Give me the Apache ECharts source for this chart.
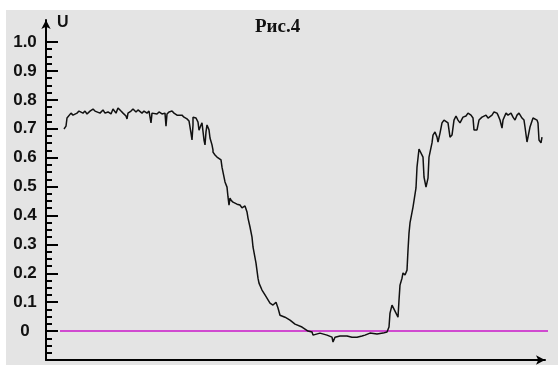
<!DOCTYPE html>
<html>
<head>
<meta charset="utf-8">
<script src="https://cdn.jsdelivr.net/npm/echarts@6/dist/echarts.min.js"></script>
<style>
  html, body { margin: 0; padding: 0; background: #fff; }
  #chart { position: absolute; left: 6px; top: 10px; width: 552px; height: 355px; background: #e4e4e4; }
</style>
</head>
<body>
<div id="chart"></div>
<script>
// abscissa (arbitrary units along the horizontal axis) and signal U
const t = [18, 20, 21, 22, 25, 27, 31, 33, 37, 39, 41, 44, 47, 49, 51, 54, 57, 59, 62, 65, 67, 70, 72, 75, 77, 80, 81, 82, 85, 87, 90, 92, 96, 98, 101, 103, 104, 105, 106, 108, 111, 113, 116, 118, 119, 120, 121, 123, 126, 128, 131, 133, 136, 138, 141, 143, 145, 145, 146, 147, 147, 150, 152, 153, 155, 156, 158, 159, 160, 161, 163, 164, 165, 166, 167, 167, 169, 171, 172, 175, 176, 177, 179, 181, 182, 183, 184, 185, 187, 191, 194, 196, 199, 201, 202, 204, 206, 207, 210, 212, 213, 216, 219, 224, 227, 230, 232, 234, 239, 244, 249, 256, 262, 266, 267, 274, 281, 286, 287, 289, 294, 301, 306, 311, 316, 319, 324, 331, 337, 341, 343, 344, 346, 347, 350, 352, 353, 354, 356, 357, 359, 361, 362, 363, 364, 367, 370, 371, 373, 377, 378, 380, 382, 383, 386, 387, 389, 391, 392, 394, 396, 398, 400, 402, 404, 406, 408, 410, 412, 414, 417, 420, 422, 425, 427, 428, 431, 433, 436, 438, 440, 442, 446, 448, 451, 452, 454, 456, 457, 460, 462, 465, 467, 469, 471, 473, 476, 478, 479, 481, 482, 484, 487, 489, 491, 492, 493, 495, 496];
const u = [0.699, 0.709, 0.737, 0.740, 0.754, 0.747, 0.754, 0.761, 0.754, 0.761, 0.751, 0.761, 0.768, 0.761, 0.765, 0.754, 0.765, 0.754, 0.758, 0.751, 0.768, 0.754, 0.772, 0.761, 0.754, 0.744, 0.734, 0.754, 0.761, 0.768, 0.758, 0.765, 0.754, 0.761, 0.754, 0.761, 0.761, 0.720, 0.754, 0.758, 0.751, 0.758, 0.751, 0.754, 0.754, 0.709, 0.751, 0.758, 0.761, 0.754, 0.747, 0.751, 0.747, 0.740, 0.734, 0.727, 0.723, 0.685, 0.661, 0.713, 0.740, 0.737, 0.723, 0.695, 0.713, 0.720, 0.661, 0.644, 0.689, 0.713, 0.696, 0.668, 0.671, 0.644, 0.626, 0.619, 0.609, 0.602, 0.606, 0.592, 0.567, 0.550, 0.516, 0.498, 0.464, 0.436, 0.460, 0.453, 0.446, 0.439, 0.436, 0.426, 0.433, 0.412, 0.391, 0.360, 0.325, 0.291, 0.235, 0.183, 0.166, 0.142, 0.125, 0.097, 0.090, 0.100, 0.080, 0.055, 0.048, 0.038, 0.024, 0.014, 0.000, -0.003, -0.014, -0.007, -0.014, -0.021, -0.038, -0.021, -0.017, -0.017, -0.021, -0.021, -0.017, -0.014, -0.007, -0.010, -0.007, -0.003, 0.014, 0.062, 0.090, 0.093, 0.062, 0.048, 0.107, 0.159, 0.183, 0.201, 0.194, 0.211, 0.280, 0.339, 0.374, 0.429, 0.495, 0.567, 0.630, 0.602, 0.533, 0.498, 0.529, 0.602, 0.651, 0.678, 0.689, 0.671, 0.654, 0.685, 0.720, 0.730, 0.734, 0.720, 0.671, 0.678, 0.730, 0.744, 0.730, 0.720, 0.740, 0.744, 0.754, 0.747, 0.737, 0.696, 0.696, 0.730, 0.740, 0.740, 0.747, 0.737, 0.747, 0.758, 0.754, 0.747, 0.730, 0.702, 0.730, 0.754, 0.747, 0.754, 0.740, 0.730, 0.747, 0.754, 0.737, 0.730, 0.706, 0.654, 0.654, 0.706, 0.737, 0.740, 0.730, 0.720, 0.661, 0.651, 0.671, 0.706];
// zero reference line ends
const zeroT = [14, 502];
const zeroU = [0, 0];
const yTicks = { min: -0.1, max: 1.0, step: 0.1 };
const title = 'Рис.4';
const yName = 'U';

const el = document.getElementById('chart');
const chart = echarts.init(el, null, { renderer: 'canvas' });

const signal = t.map((x, i) => [x, u[i]]);
const zero = zeroT.map((x, i) => [x, zeroU[i]]);

chart.setOption({
  animation: false,
  grid: [
    { left: 40, right: 8, top: 32, bottom: 5 },
    { left: 40, right: 13, top: 10, bottom: 5 }
  ],
  xAxis: [
    { gridIndex: 0, type: 'value', min: 0, max: 504, show: false },
    {
      gridIndex: 1, type: 'value', min: 0, max: 1,
      axisLine: { show: true, onZero: false, symbol: ['none', 'arrow'], symbolSize: [7, 9], lineStyle: { color: '#000', width: 2 } },
      axisTick: { show: false }, axisLabel: { show: false }, splitLine: { show: false }
    }
  ],
  yAxis: [
    {
      gridIndex: 0, type: 'value', min: yTicks.min, max: yTicks.max, interval: yTicks.step,
      axisLine: { show: false },
      axisTick: { show: true, inside: true, length: 12, lineStyle: { color: '#000', width: 2 } },
      minorTick: { show: true, splitNumber: 4, length: 6, lineStyle: { color: '#000', width: 2 } },
      splitLine: { show: false },
      axisLabel: {
        margin: 21, align: 'center', verticalAlign: 'middle', padding: [0, 0, 8, 0],
        color: '#111', fontFamily: 'Liberation Sans', fontWeight: 'bold', fontSize: 17,
        formatter: v => v < -0.05 ? '' : (Math.abs(v) < 1e-9 ? '0' : v.toFixed(1))
      }
    },
    {
      gridIndex: 1, type: 'value', min: 0, max: 1,
      axisLine: { show: true, onZero: false, symbol: ['none', 'arrow'], symbolSize: [7, 9], lineStyle: { color: '#000', width: 2 } },
      axisTick: { show: false }, axisLabel: { show: false }, splitLine: { show: false }
    }
  ],
  graphic: [
    { type: 'text', left: 249, top: 8, style: { text: title, font: 'bold 19px "Liberation Serif"', fill: '#111' } },
    { type: 'text', left: 51, top: 5, style: { text: yName, font: 'bold 16px "Liberation Sans"', fill: '#111' } }
  ],
  series: [
    {
      type: 'line', xAxisIndex: 0, yAxisIndex: 0, data: zero,
      symbol: 'none', lineStyle: { color: '#d04ad0', width: 2 }, z: 2
    },
    {
      type: 'line', xAxisIndex: 0, yAxisIndex: 0, data: signal,
      symbol: 'none', lineStyle: { color: '#111', width: 1.5 }, z: 3
    }
  ]
});
</script>
</body>
</html>
